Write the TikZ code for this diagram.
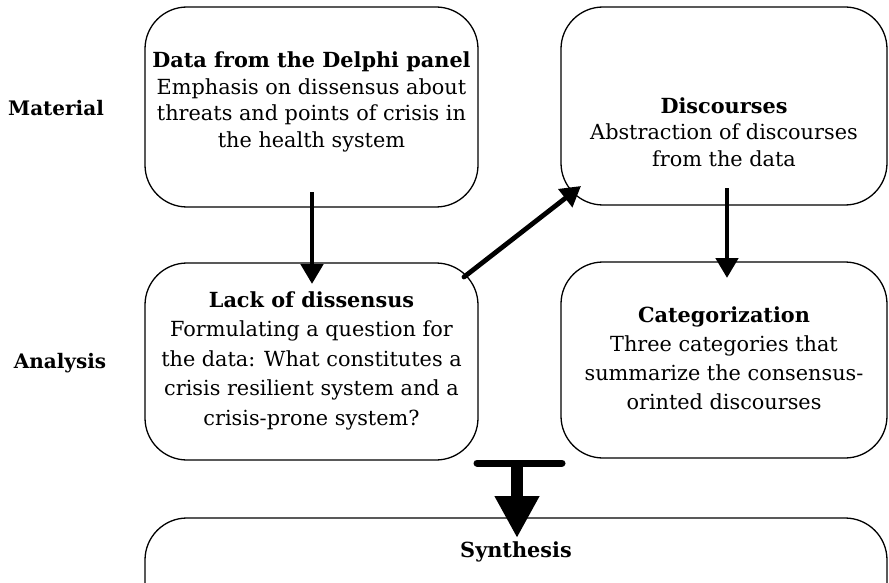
\documentclass[tikz,border=0pt]{standalone}
\usepackage{fontspec}
\setmainfont{DejaVu Serif}
\usetikzlibrary{arrows.meta}
\begin{document}
\begin{tikzpicture}[x=1pt,y=-1pt,
  box/.style={draw,line width=1.3pt,rounded corners=42pt,inner sep=0pt},
  txt/.style={align=center,font=\fontsize{20.8}{26.5}\selectfont,inner sep=0pt},
  lbl/.style={font=\fontsize{20}{22}\selectfont\bfseries,inner sep=0pt},
  arr/.style={line width=4.8pt,-{Triangle[length=20pt,width=22pt]}}]
\useasboundingbox (0,0) rectangle (889,583);
\node[box,minimum width=333pt,minimum height=200pt] (b1) at (311.5,107) {};
\node[box,minimum width=326pt,minimum height=198pt] (b2) at (724,106) {};
\node[box,minimum width=333pt,minimum height=197pt] (b3) at (311.5,361.5) {};
\node[box,minimum width=326pt,minimum height=196pt] (b4) at (724,360) {};
\node[box,minimum width=742pt,minimum height=120pt] (b5) at (516,578) {};
\node[txt] (t1) at (311.5,102) {\textbf{Data from the Delphi panel}\\Emphasis on dissensus about\\threats and points of crisis in\\the health system};
\node[txt] (t2) at (724,132) {\textbf{Discourses}\\Abstraction of discourses\\from the data};
\node[txt,font=\fontsize{20.8}{29.5}\selectfont] (t3) at (311.5,360.5) {\textbf{Lack of dissensus}\\Formulating a question for\\the data: What constitutes a\\crisis resilient system and a\\crisis-prone system?};
\node[txt,font=\fontsize{20.8}{29}\selectfont] (t4) at (724,358.5) {\textbf{Categorization}\\Three categories that\\summarize the consensus-\\orinted discourses};
\node[txt] (t5) at (516,552) {\textbf{Synthesis}};
\node[lbl] (m) at (56,108) {Material};
\node[lbl] (a) at (60,363) {Analysis};
\coordinate (a1s) at (312,192);
\coordinate (a1e) at (312,284);
\draw[arr] (a1s) -- (a1e);
\coordinate (a2s) at (464,277);
\coordinate (a2e) at (581,186);
\draw[arr,line cap=round] (a2s) -- (a2e);
\coordinate (a3s) at (727,188);
\coordinate (a3e) at (727,278);
\draw[arr] (a3s) -- (a3e);
\coordinate (tl) at (477,463);
\coordinate (tr) at (562,463);
\coordinate (tm) at (517,463);
\coordinate (te) at (517,538);
\draw[line width=7pt,line cap=round] (tl) -- (tr);
\draw[line width=12pt,-{Triangle[length=42pt,width=42pt]}] (tm) -- (te);
\end{tikzpicture}
\end{document}
